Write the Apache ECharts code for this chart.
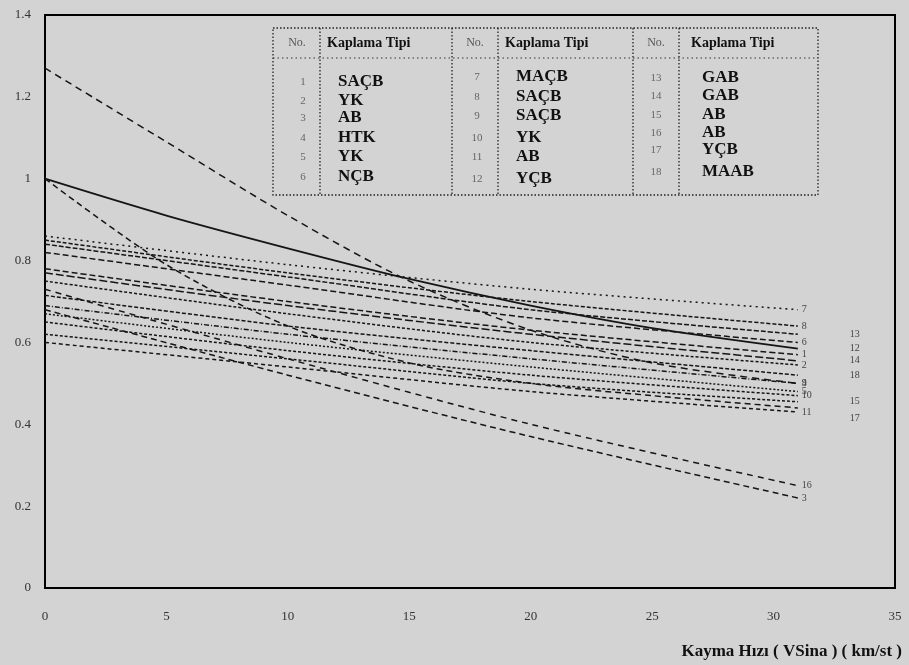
<!DOCTYPE html>
<html>
<head>
<meta charset="utf-8">
<script src="https://cdn.jsdelivr.net/npm/echarts@6/dist/echarts.min.js"></script>
<style>
html,body{margin:0;padding:0;background:#d3d3d3;}
#chart{width:909px;height:665px;}
</style>
</head>
<body>
<div id="chart"></div>
<script>
// ---- data ----
const xs = [0, 10, 20, 31];             // straight-ish lines
const xsCurve = [0, 5, 10, 15, 20, 25, 31]; // curved lines
const xTicks = [0, 5, 10, 15, 20, 25, 30, 35];
const yTicks = [0, 0.2, 0.4, 0.6, 0.8, 1, 1.2, 1.4];

const line1  = [0.78, 0.70, 0.63, 0.57];
const line2  = [0.75, 0.67, 0.60, 0.545];
const line3  = [0.68, 0.52, 0.37, 0.22];
const line4  = [0.69, 0.62, 0.56, 0.50];
const line5  = [0.67, 0.60, 0.54, 0.48];
const line6  = [0.82, 0.74, 0.66, 0.60];
const line7  = [0.86, 0.79, 0.73, 0.68];
const line8  = [0.85, 0.77, 0.70, 0.64];
const line9  = [1.27, 1.09, 0.91, 0.75, 0.63, 0.55, 0.50];
const line10 = [0.65, 0.58, 0.52, 0.47];
const line11 = [0.60, 0.54, 0.48, 0.43];
const line12 = [1.00, 0.91, 0.83, 0.755, 0.69, 0.635, 0.585];
const line13 = [0.84, 0.76, 0.68, 0.62];
const line14 = [0.77, 0.69, 0.62, 0.555];
const line15 = [0.62, 0.56, 0.50, 0.455];
const line16 = [0.73, 0.56, 0.40, 0.25];
const line17 = [1.00, 0.79, 0.64, 0.55, 0.50, 0.47, 0.44];
const line18 = [0.715, 0.64, 0.58, 0.52];

const lineNos = ['1','2','3','4','5','6','7','8','9','10','11','12','13','14','15','16','17','18'];
const lineValues = [line1,line2,line3,line4,line5,line6,line7,line8,line9,line10,line11,line12,line13,line14,line15,line16,line17,line18];

const tableHeaderNo = 'No.';
const tableHeader = 'Kaplama Tipi';
const tableNos1 = ['1','2','3','4','5','6'];
const tableNos2 = ['7','8','9','10','11','12'];
const tableNos3 = ['13','14','15','16','17','18'];
const tableTypes1 = ['SAÇB','YK','AB','HTK','YK','NÇB'];
const tableTypes2 = ['MAÇB','SAÇB','SAÇB','YK','AB','YÇB'];
const tableTypes3 = ['GAB','GAB','AB','AB','YÇB','MAAB'];
const xAxisTitle = 'Kayma Hızı ( VSina ) ( km/st )';

// ---- styles ----
const SERIF = '"Liberation Serif","DejaVu Serif",serif';
const dashStyles = {
  '1':[6,3],'2':[3,2],'3':[6,4],'4':[5,2,1,2],'5':[2,2],'6':[6,3],'7':[2,4],'8':[4,2],
  '9':[7,5],'10':[3,2],'11':[4,3],'12':'solid','13':[5,2],'14':[8,3],'15':[3,2],'16':[6,5],'17':[6,4],'18':[4,2]
};
const labelOffsets = {
  '13':[48,0],'12':[48,0],'14':[48,0],'18':[48,0],'15':[48,0],'17':[48,10]
};

const series = lineNos.map((no, i) => {
  const vals = lineValues[i];
  const xv = vals.length === xsCurve.length ? xsCurve : xs;
  return {
    name: no,
    type: 'line',
    data: xv.map((x, j) => [x, vals[j]]),
    showSymbol: false,
    smooth: 0.3,
    silent: true,
    lineStyle: {
      color: '#151515',
      width: no === '12' ? 1.8 : 1.5,
      type: dashStyles[no]
    },
    endLabel: {
      show: true,
      formatter: '{a}',
      fontFamily: SERIF,
      fontSize: 10,
      color: '#444',
      distance: 4,
      offset: labelOffsets[no] || [0, 0]
    }
  };
});

// ---- table (graphic) ----
const g = [];
const boxL = 273, boxT = 28, boxW = 545, boxH = 167;
const dotted = {stroke:'#222', lineWidth:1.3, lineDash:[1.5,2]};
g.push({type:'rect', shape:{x:boxL,y:boxT,width:boxW,height:boxH}, style:Object.assign({fill:null},dotted)});
[320, 452, 498, 633, 679].forEach(x => g.push({type:'line', shape:{x1:x,y1:boxT,x2:x,y2:boxT+boxH}, style:dotted}));
g.push({type:'line', shape:{x1:boxL,y1:58,x2:boxL+boxW,y2:58}, style:{stroke:'#333',lineWidth:1,lineDash:[1.5,3]}});

const cols = [
  {noX:297, hdrX:327, numX:303, txtX:338, rows:[82,101,118,138,157,177], nos:tableNos1, types:tableTypes1},
  {noX:475, hdrX:505, numX:477, txtX:516, rows:[77,97,116,138,157,179], nos:tableNos2, types:tableTypes2},
  {noX:656, hdrX:691, numX:656, txtX:702, rows:[78,96,115,133,150,172], nos:tableNos3, types:tableTypes3}
];
cols.forEach(c => {
  g.push({type:'text', x:c.noX, y:43, style:{text:tableHeaderNo, font:'12px '+SERIF, fill:'#555', align:'center', verticalAlign:'middle'}});
  g.push({type:'text', x:c.hdrX, y:43, style:{text:tableHeader, font:'bold 14px '+SERIF, fill:'#111', align:'left', verticalAlign:'middle'}});
  c.rows.forEach((y, k) => {
    g.push({type:'text', x:c.numX, y:y, style:{text:c.nos[k], font:'11px '+SERIF, fill:'#666', align:'center', verticalAlign:'middle'}});
    g.push({type:'text', x:c.txtX, y:y, style:{text:c.types[k], font:'bold 17px '+SERIF, fill:'#111', align:'left', verticalAlign:'middle'}});
  });
});
g.push({type:'text', x:902, y:652, style:{text:xAxisTitle, font:'bold 17px '+SERIF, fill:'#111', align:'right', verticalAlign:'middle'}});

const chart = echarts.init(document.getElementById('chart'));
chart.setOption({
  animation: false,
  backgroundColor: '#d3d3d3',
  grid: {left:45, right:14, top:15, bottom:77, show:true, borderColor:'#000', borderWidth:2, backgroundColor:'transparent'},
  xAxis: {
    type:'value', min:xTicks[0], max:xTicks[xTicks.length-1], interval:5,
    axisLine:{show:true, lineStyle:{color:'#000', width:2}},
    axisTick:{show:false}, splitLine:{show:false},
    axisLabel:{margin:22, fontFamily:SERIF, fontSize:13, color:'#333'}
  },
  yAxis: {
    type:'value', min:yTicks[0], max:yTicks[yTicks.length-1], interval:0.2,
    axisLine:{show:true, lineStyle:{color:'#000', width:2}},
    axisTick:{show:false}, splitLine:{show:false},
    axisLabel:{margin:14, fontFamily:SERIF, fontSize:13, color:'#333',
      formatter: v => String(+v.toFixed(1))}
  },
  series: series,
  graphic: g
});
</script>
</body>
</html>
